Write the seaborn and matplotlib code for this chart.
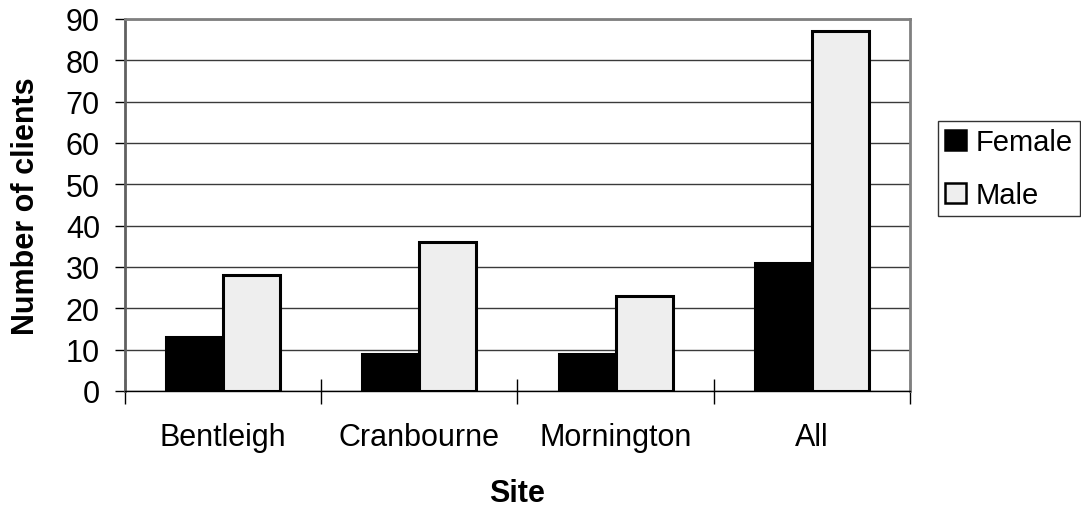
import matplotlib
matplotlib.use("Agg")
import matplotlib.pyplot as plt
import seaborn as sns
import pandas as pd
from matplotlib.patches import Patch

sites = ["Bentleigh", "Cranbourne", "Mornington", "All"]
female = [13, 9, 9, 31]
male = [28, 36, 23, 87]
y_ticks = [0, 10, 20, 30, 40, 50, 60, 70, 80, 90]

df = pd.DataFrame({
    "Site": sites * 2,
    "Gender": ["Female"] * len(sites) + ["Male"] * len(sites),
    "Clients": female + male,
})

sns.set_theme(style="white")
plt.rcParams["font.family"] = ["Liberation Sans", "DejaVu Sans"]
plt.rcParams["text.color"] = "black"
plt.rcParams["axes.labelcolor"] = "black"
plt.rcParams["xtick.color"] = "black"
plt.rcParams["ytick.color"] = "black"

fig = plt.figure(figsize=(10.81, 5.10), dpi=100)
ax = fig.add_axes([0.1156, 0.2314, 0.8418 - 0.1156, 0.9608 - 0.2314])

palette = {"Female": "#000000", "Male": "#eeeeee"}
sns.barplot(data=df, x="Site", y="Clients", hue="Gender", palette=palette,
            width=0.58, gap=0, edgecolor="black", linewidth=2.2,
            saturation=1, legend=False, ax=ax, zorder=3)

ax.set_ylim(0, 90)
ax.set_xlim(-0.5, len(sites) - 0.5)
ax.set_yticks(y_ticks)
ax.yaxis.grid(True, color="#3a3a3a", linewidth=1.0, zorder=0)
ax.xaxis.grid(False)

for side in ["top", "right"]:
    ax.spines[side].set_color("#808080")
    ax.spines[side].set_linewidth(2.0)
ax.spines["left"].set_color("#606060")
ax.spines["left"].set_linewidth(2.0)
ax.spines["bottom"].set_color("black")
ax.spines["bottom"].set_linewidth(1.0)

# category labels centred, tick marks on category boundaries
ax.set_xticks(range(len(sites)))
ax.set_xticklabels(sites)
ax.tick_params(axis="x", which="major", length=0, pad=22, labelsize=22)
ax.set_xticks([i - 0.5 for i in range(len(sites) + 1)], minor=True)
ax.tick_params(axis="x", which="minor", direction="inout", length=18,
               width=1.0, color="black", bottom=True)
ax.tick_params(axis="y", direction="out", length=7, width=1.0,
               color="black", left=True, labelsize=22, pad=11)

ax.set_xlabel("Site", fontsize=22, fontweight="bold", labelpad=19)
ax.set_ylabel("Number of clients", fontsize=22, fontweight="bold", labelpad=18)

handles = [Patch(facecolor="#000000", edgecolor="black", linewidth=1.8),
           Patch(facecolor="#eeeeee", edgecolor="black", linewidth=1.8)]
leg = fig.legend(handles, ["Female", "Male"], loc="upper left",
                 bbox_to_anchor=(0.8677, 0.761), frameon=True, fancybox=False,
                 edgecolor="black", fontsize=21, handlelength=0.7,
                 handleheight=0.7, handletextpad=0.35, borderpad=0.25,
                 labelspacing=0.85, borderaxespad=0)
leg.get_frame().set_linewidth(1.0)

fig.savefig("out.png", dpi=100)
